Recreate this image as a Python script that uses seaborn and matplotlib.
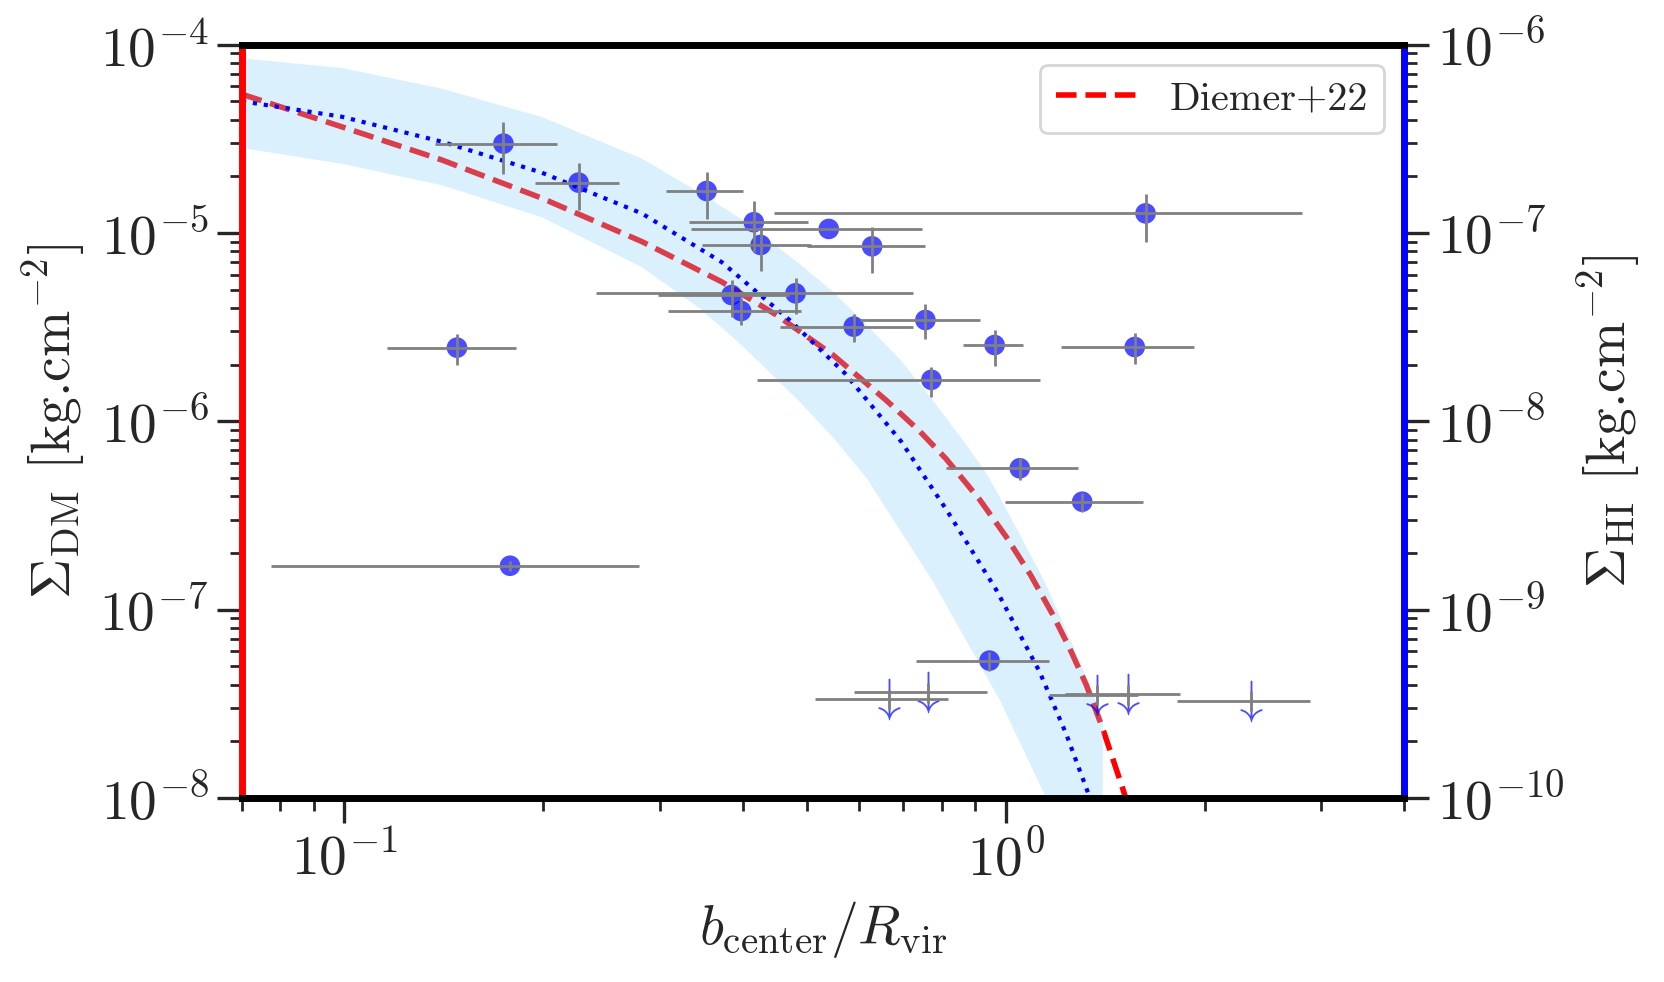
import numpy as np
import matplotlib
matplotlib.use('Agg')
import matplotlib.pyplot as plt
import seaborn as sns

# detections: b/Rvir (centre, lower, upper) and Sigma_DM (value, lower, upper)
x_det = [0.174, 0.226, 0.148, 0.178, 0.353, 0.416, 0.426, 0.540, 0.628, 1.627, 0.385,
         0.398, 0.481, 0.589, 0.756, 0.962, 1.567, 0.772, 1.050, 1.305, 0.945]
x_det_lo = [0.137, 0.194, 0.116, 0.0775, 0.306, 0.332, 0.347, 0.334, 0.501, 0.446, 0.298,
            0.309, 0.240, 0.456, 0.602, 0.861, 1.213, 0.421, 0.813, 0.998, 0.732]
x_det_hi = [0.210, 0.260, 0.182, 0.279, 0.401, 0.502, 0.507, 0.748, 0.756, 2.806, 0.471,
            0.490, 0.724, 0.724, 0.913, 1.061, 1.924, 1.125, 1.288, 1.612, 1.162]
y_det = [2.98e-5, 1.85e-5, 2.46e-6, 1.71e-7, 1.67e-5, 1.14e-5, 8.63e-6, 1.05e-5, 8.49e-6, 1.27e-5, 4.68e-6,
         3.85e-6, 4.78e-6, 3.18e-6, 3.45e-6, 2.54e-6, 2.48e-6, 1.66e-6, 5.63e-7, 3.74e-7, 5.36e-8]
y_det_lo = [2.06e-5, 1.32e-5, 1.99e-6, 1.60e-7, 1.19e-5, 7.95e-6, 6.28e-6, 1.05e-5, 6.13e-6, 8.98e-6, 3.59e-6,
            3.25e-6, 3.70e-6, 2.65e-6, 2.74e-6, 1.97e-6, 2.01e-6, 1.35e-6, 4.88e-7, 3.31e-7, 4.74e-8]
y_det_hi = [3.90e-5, 2.34e-5, 2.90e-6, 1.82e-7, 2.11e-5, 1.47e-5, 1.08e-5, 1.05e-5, 1.07e-5, 1.61e-5, 5.62e-6,
            4.50e-6, 5.74e-6, 3.70e-6, 4.18e-6, 3.05e-6, 2.93e-6, 1.93e-6, 6.36e-7, 4.15e-7, 5.98e-8]

# upper limits
x_ul = [0.666, 0.763, 1.375, 1.533, 2.346]
x_ul_lo = [0.515, 0.589, 1.162, 1.230, 1.816]
x_ul_hi = [0.818, 0.936, 1.584, 1.837, 2.885]
y_ul = [3.34e-8, 3.64e-8, 3.52e-8, 3.55e-8, 3.28e-8]
y_ul_lo = [2.95e-8, 3.20e-8, 3.10e-8, 3.10e-8, 2.90e-8]
y_ul_hi = [3.75e-8, 4.10e-8, 4.00e-8, 4.00e-8, 3.70e-8]

# Diemer+22 profile
diemer_x = [0.07, 0.0991, 0.1404, 0.1988, 0.2816, 0.372, 0.45, 0.548, 0.66, 0.74,
            0.813, 0.913, 1.002, 1.09, 1.178, 1.25, 1.323, 1.402, 1.503, 1.6]
diemer_y = [5.45e-5, 3.66e-5, 2.44e-5, 1.53e-5, 9.0e-6, 5.5e-6, 3.67e-6, 2.25e-6, 1.29e-6, 8.9e-7,
            6.3e-7, 3.84e-7, 2.43e-7, 1.53e-7, 9.4e-8, 6.2e-8, 4.0e-8, 2.33e-8, 1.12e-8, 5.6e-9]

# fitted profile (dotted) and its band
fit_x = [0.07, 0.0991, 0.1404, 0.1988, 0.2816, 0.372, 0.471, 0.571, 0.695, 0.813,
         0.968, 1.125, 1.234, 1.338, 1.4]
fit_y = [5.0e-5, 4.14e-5, 3.05e-5, 2.09e-5, 1.27e-5, 7.0e-6, 3.45e-6, 1.80e-6, 7.8e-7, 3.4e-7,
         1.27e-7, 4.68e-8, 2.19e-8, 1.02e-8, 6.5e-9]
band_x = [0.07, 0.0991, 0.1404, 0.1988, 0.2816, 0.3446, 0.4, 0.488, 0.548, 0.6155,
          0.6912, 0.7757, 0.8717, 0.934, 0.9786, 1.125, 1.151, 1.278, 1.378, 1.40]
band_hi = [8.49e-5, 7.55e-5, 5.86e-5, 4.14e-5, 2.49e-5, 1.64e-5, 1.175e-5, 6.85e-6, 4.88e-6, 3.26e-6,
           2.14e-6, 1.29e-6, 7.48e-7, 5.30e-7, 3.95e-7, 1.58e-7, 1.34e-7, 5.86e-8, 3.05e-8, 2.66e-8]
band_lo = [2.84e-5, 2.34e-5, 1.80e-5, 1.216e-5, 6.6e-6, 3.98e-6, 2.51e-6, 1.27e-6, 8.2e-7, 5.0e-7,
           2.65e-7, 1.41e-7, 6.8e-8, 4.43e-8, 3.31e-8, 1.18e-8, 1.0e-8, 4.3e-9, 2.3e-9, 2.0e-9]

sns.set_style('ticks')
plt.rcParams['font.family'] = 'serif'
plt.rcParams['font.serif'] = ['cmr10']
plt.rcParams['mathtext.fontset'] = 'cm'
plt.rcParams['axes.formatter.use_mathtext'] = True

fig = plt.figure(figsize=(8.32, 4.91), dpi=200)
ax = fig.add_axes([0.1454, 0.1874, 0.6983, 0.7672])
ax.set_xscale('log')
ax.set_yscale('log')

# model curves
sns.lineplot(x=diemer_x, y=diemer_y, ax=ax, color='red', lw=2, ls='--',
             sort=False, estimator=None, label='Diemer+22', zorder=2)
ax.fill_between(band_x, band_lo, band_hi, color='lightskyblue', alpha=0.3,
                lw=0, zorder=2.1)
sns.lineplot(x=fit_x, y=fit_y, ax=ax, color='blue', lw=1.5, ls=':',
             sort=False, estimator=None, zorder=2.2)

# data
sns.scatterplot(x=x_det, y=y_det, ax=ax, color='blue', alpha=0.7, s=55,
                edgecolor='none', zorder=3)
ax.plot(x_ul, y_ul, ls='none', marker=r'$\downarrow$', ms=15, mew=0,
        color='blue', alpha=0.7, zorder=3.1)

xd, yd = np.array(x_det), np.array(y_det)
ax.errorbar(xd, yd, xerr=[xd - np.array(x_det_lo), np.array(x_det_hi) - xd],
            yerr=[yd - np.array(y_det_lo), np.array(y_det_hi) - yd],
            fmt='none', ecolor='grey', elinewidth=1.0, capsize=0, zorder=3.5)
xu, yu = np.array(x_ul), np.array(y_ul)
ax.errorbar(xu, yu, xerr=[xu - np.array(x_ul_lo), np.array(x_ul_hi) - xu],
            yerr=[yu - np.array(y_ul_lo), np.array(y_ul_hi) - yu],
            fmt='none', ecolor='grey', elinewidth=1.0, capsize=0, zorder=3.5)

ax.set_xlim(0.07, 4)
ax.set_ylim(1e-8, 1e-4)
ax.set_xlabel(r'$b_{\rm center}/R_{\rm vir}$', fontsize=20)
ax.set_ylabel(r'$\Sigma_{\rm DM}$ [kg.cm$^{-2}$]', fontsize=20)
ax.tick_params(which='major', length=9, width=1.2, labelsize=20, pad=3)
ax.tick_params(which='minor', length=4.5, width=1.0)
ax.legend(loc='upper right', fontsize=14.5)

ax2 = ax.twinx()
ax2.set_yscale('log')
ax2.set_ylim(1e-10, 1e-6)
ax2.set_ylabel(r'$\Sigma_{\rm HI}$ [kg.cm$^{-2}$]', fontsize=20)
ax2.tick_params(which='major', length=9, width=1.2, labelsize=20, pad=3)
ax2.tick_params(which='minor', length=4.5, width=1.0)

for s in ['top', 'bottom', 'right']:
    ax.spines[s].set_visible(False)
ax.spines['left'].set_color('red')
ax.spines['left'].set_linewidth(2.5)
ax2.spines['left'].set_visible(False)
ax2.spines['right'].set_color('blue')
for s in ['top', 'bottom', 'right']:
    ax2.spines[s].set_visible(True)
    ax2.spines[s].set_linewidth(2.5)
ax2.spines['top'].set_color('black')
ax2.spines['bottom'].set_color('black')

fig.savefig('out.png', dpi=200)
